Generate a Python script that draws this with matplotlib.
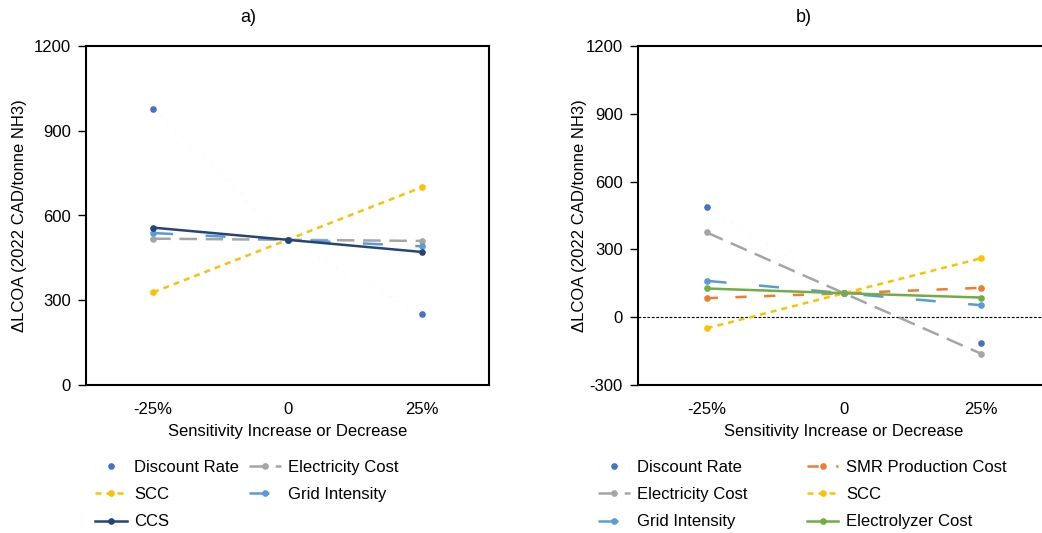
import matplotlib
matplotlib.use("Agg")
import matplotlib.pyplot as plt
from matplotlib.lines import Line2D

plt.rcParams['font.family'] = ['Liberation Sans', 'DejaVu Sans']
plt.rcParams['axes.unicode_minus'] = False

# Sensitivity levels
levels = ["-25%", "0", "25%"]

# Panel a) values (2022 CAD/tonne NH3)
a_discount = [978, 514, 250]
a_electricity = [518, 514, 510]
a_scc = [328, 514, 700]
a_grid = [538, 514, 491]
a_ccs = [557, 514, 471]

# Panel b) values (2022 CAD/tonne NH3)
b_discount = [488, 106, -112]
b_smr = [84, 106, 130]
b_electricity = [375, 106, -162]
b_scc = [-49, 106, 261]
b_grid = [161, 106, 53]
b_electrolyzer = [127, 106, 87]

C_DISC = "#4472C4"
C_ELEC = "#A5A5A5"
C_SCC = "#FFC000"
C_GRID = "#5B9BD5"
C_CCS = "#264478"
C_SMR = "#ED7D31"
C_ELZ = "#70AD47"

LW = 1.8
MS = 4.8
FS = 12

styles = {
    "disc": dict(color=C_DISC, linestyle=(0, (0.3, 18)), linewidth=0.4),
    "elec": dict(color=C_ELEC, linestyle=(0, (7, 3.5)), linewidth=LW),
    "scc": dict(color=C_SCC, linestyle=(0, (2.4, 2.0)), linewidth=LW),
    "grid": dict(color=C_GRID, linestyle=(0, (8, 13)), linewidth=LW),
    "ccs": dict(color=C_CCS, linestyle='-', linewidth=LW),
    "smr": dict(color=C_SMR, linestyle=(0, (4.5, 7)), linewidth=LW),
    "elz": dict(color=C_ELZ, linestyle='-', linewidth=LW),
}

fig = plt.figure(figsize=(10.42, 5.33), dpi=100)
W, H = 1042, 533


def px_axes(x0, y0, x1, y1):
    return fig.add_axes([x0 / W, 1 - y1 / H, (x1 - x0) / W, (y1 - y0) / H])


def plot_series(ax, vals, key, label):
    st = styles[key]
    ax.plot(range(len(levels)), vals, marker='o', markersize=MS,
            markeredgewidth=0, label=label, dash_capstyle='butt',
            solid_capstyle='round', **st)


def style_axes(ax, ymin, ymax, ylabelpad):
    ax.set_xlim(-0.5, 2.5)
    ax.set_ylim(ymin, ymax)
    ax.set_yticks(range(ymin, ymax + 1, 300))
    ax.set_xticks(range(len(levels)))
    ax.set_xticklabels(levels)
    ax.tick_params(axis='x', length=0, labelsize=FS, pad=12)
    ax.tick_params(axis='y', direction='out', length=6, width=1.0,
                   labelsize=FS, pad=5)
    for s in ax.spines.values():
        s.set_linewidth(1.5)
        s.set_color('black')
    ax.axhline(0, color='black', linewidth=0.8, linestyle=(0, (2.5, 1.5)),
               zorder=1)
    ax.set_xlabel("Sensitivity Increase or Decrease", fontsize=FS, labelpad=5)
    ax.set_ylabel("ΔLCOA (2022 CAD/tonne NH3)", fontsize=FS,
                  labelpad=ylabelpad)


# Panel a)
ax1 = px_axes(86, 46, 489, 385)
plot_series(ax1, a_discount, "disc", "Discount Rate")
plot_series(ax1, a_scc, "scc", "SCC")
plot_series(ax1, a_electricity, "elec", "Electricity Cost")
plot_series(ax1, a_grid, "grid", "Grid Intensity")
plot_series(ax1, a_ccs, "ccs", "CCS")
style_axes(ax1, 0, 1200, 5)

# Panel b)
ax2 = px_axes(638, 46, 1050, 385)
plot_series(ax2, b_discount, "disc", "Discount Rate")
plot_series(ax2, b_smr, "smr", "SMR Production Cost")
plot_series(ax2, b_electricity, "elec", "Electricity Cost")
plot_series(ax2, b_scc, "scc", "SCC")
plot_series(ax2, b_grid, "grid", "Grid Intensity")
plot_series(ax2, b_electrolyzer, "elz", "Electrolyzer Cost")
style_axes(ax2, -300, 1200, -1)

fig.text(248 / W, 1 - 18 / H, "a)", ha='center', va='center', fontsize=13)
fig.text(804 / W, 1 - 18 / H, "b)", ha='center', va='center', fontsize=13)


def handle(key, label):
    st = styles[key]
    return Line2D([], [], marker='o', markersize=MS, markeredgewidth=0,
                  label=label, **st)


leg_a = [handle("disc", "Discount Rate"), handle("scc", "SCC"),
         handle("ccs", "CCS"), handle("elec", "Electricity Cost"),
         handle("grid", "Grid Intensity")]
fig.legend(handles=leg_a, loc='upper left',
           bbox_to_anchor=(95 / W, 1 - 460 / H), ncol=2, frameon=False,
           fontsize=FS, borderpad=0, borderaxespad=0, handlelength=1.9,
           handletextpad=0.45, columnspacing=0.6, labelspacing=0.73)

leg_b = [handle("disc", "Discount Rate"), handle("elec", "Electricity Cost"),
         handle("grid", "Grid Intensity"), handle("smr", "SMR Production Cost"),
         handle("scc", "SCC"), handle("elz", "Electrolyzer Cost")]
fig.legend(handles=leg_b, loc='upper left',
           bbox_to_anchor=(598 / W, 1 - 460 / H), ncol=2, frameon=False,
           fontsize=FS, borderpad=0, borderaxespad=0, handlelength=1.9,
           handletextpad=0.45, columnspacing=3.55, labelspacing=0.73)

fig.savefig("out.png", dpi=100)
